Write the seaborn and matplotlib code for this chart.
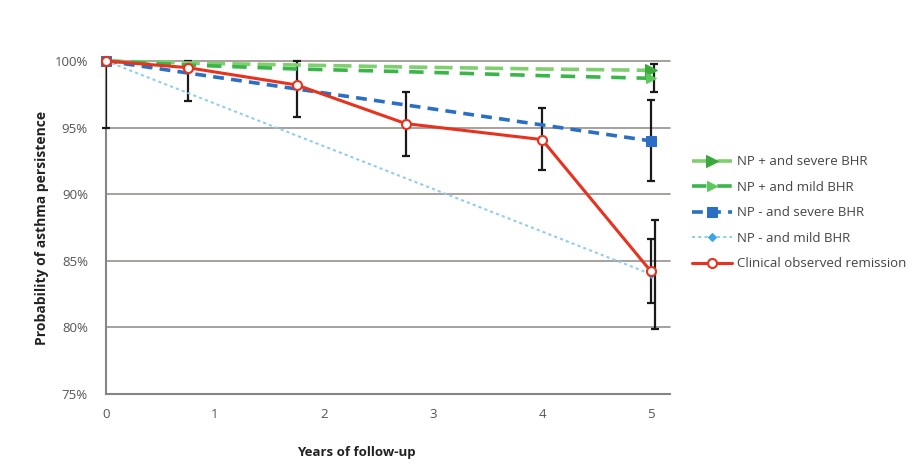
import matplotlib
matplotlib.use("Agg")
import matplotlib.pyplot as plt
import seaborn as sns
import pandas as pd
import numpy as np

years = [0, 0.75, 1.75, 2.75, 4, 5]
np_pos_severe = [100, 99.85, 99.7, 99.55, 99.4, 99.3]
np_pos_mild = [100, 99.7, 99.4, 99.2, 98.9, 98.7]
np_neg_severe = [100, 99.1, 97.9, 96.7, 95.2, 94.0]
np_neg_mild = [100, 97.6, 94.4, 91.2, 87.2, 84.0]
clinical = [100, 99.5, 98.2, 95.3, 94.1, 84.2]

clin_low = [95.0, 97.0, 95.8, 92.9, 91.8, 81.8]
clin_high = [100.0, 100.0, 100.0, 97.7, 96.5, 86.6]

end_x = 5
mild_pos_err = (97.7, 99.8)
neg_severe_err = (91.0, 97.1)
neg_mild_err = (79.9, 88.1)

labels = ["NP + and severe BHR", "NP + and mild BHR", "NP - and severe BHR",
          "NP - and mild BHR", "Clinical observed remission"]
yticks = [75, 80, 85, 90, 95, 100]
xticks = [0, 1, 2, 3, 4, 5]

sns.set_theme(style="white")
plt.rcParams['font.family'] = ['Open Sans', 'DejaVu Sans']

fig = plt.figure(figsize=(9.15, 4.73), dpi=100)
ax = fig.add_axes([106/915, 1-394/473, (670-106)/915, (394-61)/473])

df = pd.DataFrame({"year": years, labels[0]: np_pos_severe, labels[1]: np_pos_mild,
                   labels[2]: np_neg_severe, labels[3]: np_neg_mild, labels[4]: clinical})

for y in yticks:
    ax.axhline(y, color="#a09a96", lw=1.3, zorder=0)

eb = dict(fmt="none", ecolor="#1a1a1a", elinewidth=1.6, capsize=3, capthick=1.6, zorder=3)
ax.errorbar(years, clinical,
            yerr=[np.array(clinical) - np.array(clin_low), np.array(clin_high) - np.array(clinical)],
            **eb)
ax.errorbar([end_x + 0.04], [np_neg_mild[-1]],
            yerr=[[np_neg_mild[-1] - neg_mild_err[0]], [neg_mild_err[1] - np_neg_mild[-1]]], **eb)
ax.errorbar([end_x], [np_neg_severe[-1]],
            yerr=[[np_neg_severe[-1] - neg_severe_err[0]], [neg_severe_err[1] - np_neg_severe[-1]]], **eb)
ax.errorbar([end_x + 0.03], [np_pos_mild[-1]],
            yerr=[[np_pos_mild[-1] - mild_pos_err[0]], [mild_pos_err[1] - np_pos_mild[-1]]], **eb)

ends = [0, len(years) - 1]
sns.lineplot(data=df, x="year", y=labels[0], ax=ax, color="#7fcf6e", lw=2.6,
             linestyle=(0, (5, 2)), marker=">", markersize=8, markevery=[len(years) - 1],
             markerfacecolor="#3aa83a", markeredgecolor="#3aa83a", label=labels[0], zorder=4)
sns.lineplot(data=df, x="year", y=labels[1], ax=ax, color="#3ab54a", lw=2.6,
             linestyle=(0, (4, 3)), marker=">", markersize=7, markevery=[len(years) - 1],
             markerfacecolor="#5cc85c", markeredgecolor="#5cc85c", label=labels[1], zorder=4)
sns.lineplot(data=df, x="year", y=labels[2], ax=ax, color="#2a6fc4", lw=2.6,
             linestyle=(0, (3, 2)), marker="s", markersize=7, markevery=ends,
             markerfacecolor="#2a6fc4", markeredgecolor="#2a6fc4", label=labels[2], zorder=4)
sns.lineplot(data=df, x="year", y=labels[3], ax=ax, color="#92cdee", lw=1.5,
             linestyle=(0, (1.5, 1.5)), marker="D", markersize=4, markevery=ends,
             markerfacecolor="#3aa5e0", markeredgecolor="#3aa5e0", label=labels[3], zorder=4)
sns.lineplot(data=df, x="year", y=labels[4], ax=ax, color="#e8321e", lw=2.2,
             marker="o", markersize=6.5, markerfacecolor="white", markeredgecolor="#e8321e",
             markeredgewidth=1.5, label=labels[4], zorder=5)

for line in ax.lines:
    line.set_clip_on(False)

ax.set_xlim(0, (670 - 106) / 109)
ax.set_ylim(75, 100)
ax.set_xticks(xticks)
ax.set_yticks(yticks)
ax.set_yticklabels([f"{v}%" for v in yticks], fontsize=9.5, color="#555555")
ax.set_xticklabels([str(v) for v in xticks], fontsize=9.5, color="#555555")
ax.tick_params(axis="y", length=0, pad=13)
ax.tick_params(axis="x", length=0, pad=10)

for s in ["top", "right"]:
    ax.spines[s].set_visible(False)
for s in ["left", "bottom"]:
    ax.spines[s].set_color("#8a8480")
    ax.spines[s].set_linewidth(1.5)

ax.set_xlabel("Years of follow-up", fontsize=9.5, fontweight="bold", color="#222222")
ax.xaxis.set_label_coords((356 - 106) / 564, (394 - 452) / 333)
ax.xaxis.label.set_va("center")
ax.set_ylabel("Probability of asthma persistence", fontsize=10, fontweight="bold", color="#222222")
ax.yaxis.set_label_coords((42 - 106) / 564, 0.5)
ax.yaxis.label.set_va("center")

leg = ax.legend(loc="upper left", bbox_to_anchor=(687/915, 1 - 150/473),
                bbox_transform=fig.transFigure, frameon=False, fontsize=9.5,
                handlelength=3.0, labelspacing=0.95, borderaxespad=0, handletextpad=0.4)
for t in leg.get_texts():
    t.set_color("#444444")

fig.savefig("out.png", dpi=100)
